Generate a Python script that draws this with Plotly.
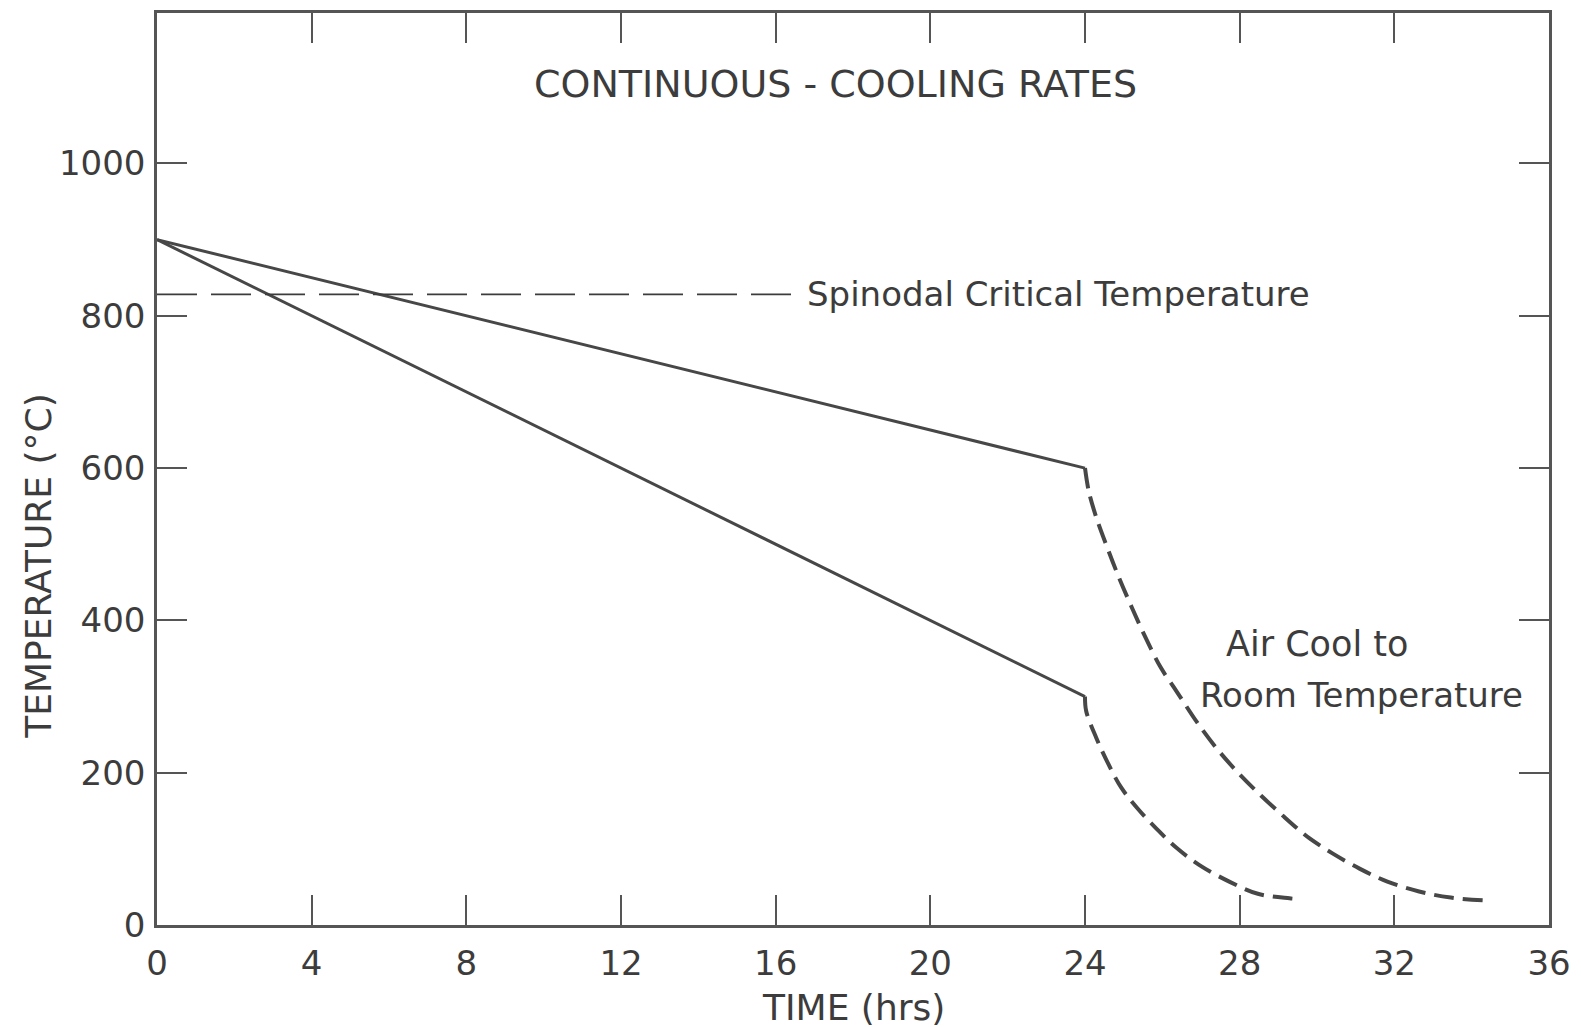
import plotly.graph_objects as go

# Controlled cooling segments (time in hrs, temperature in deg C)
slow_time = [0, 24]
slow_temp = [900, 600]
fast_time = [0, 24]
fast_temp = [900, 300]

# Air cooling to room temperature after the controlled segment
slow_air_time = [24.0, 24.1, 24.3, 24.58, 24.88, 25.22, 25.57, 25.96, 26.3, 26.47, 26.9,
                 27.42, 27.94, 28.55, 29.15, 29.53, 29.8, 30.4, 31.1, 31.82, 32.64, 33.46, 34.4]
slow_air_temp = [600, 569, 534, 495, 456, 416, 377, 338, 312, 299, 266,
                 231, 201, 170, 142, 125, 114, 94, 74, 57, 44, 36, 32]
fast_air_time = [24.0, 24.03, 24.29, 24.58, 24.93, 25.36, 25.84, 26.35, 26.95, 27.73, 28.47, 29.29, 29.55]
fast_air_temp = [300, 281, 246, 214, 181, 153, 127, 102, 79, 57, 41, 35, 34]

# Spinodal critical temperature reference line
spinodal_time = [0, 16.6]
spinodal_temp = [828, 828]

x_ticks = [0, 4, 8, 12, 16, 20, 24, 28, 32, 36]
x_tick_text = ["0", "4", "8", "12", "16", "20", "24", "28", "32", "36"]
y_ticks = [0, 200, 400, 600, 800, 1000]
y_tick_text = ["0", "200", "400", "600", "800", "1000"]

INK = "#3c3c3c"
FONT = "DejaVu Sans"

fig = go.Figure()

for t, v in ((slow_time, slow_temp), (fast_time, fast_temp)):
    fig.add_trace(go.Scatter(x=t, y=v, mode="lines",
                             line=dict(color="#474747", width=3), hoverinfo="skip"))

for t, v in ((slow_air_time, slow_air_temp), (fast_air_time, fast_air_temp)):
    fig.add_trace(go.Scatter(x=t, y=v, mode="lines",
                             line=dict(color="#474747", width=4, dash="20px,9px", shape="spline"),
                             hoverinfo="skip"))

fig.add_trace(go.Scatter(x=spinodal_time, y=spinodal_temp, mode="lines",
                         line=dict(color=INK, width=1.8, dash="40px,14px"), hoverinfo="skip"))

annotations = [
    dict(x=17.55, y=1105, text="CONTINUOUS - COOLING RATES", font=dict(size=38),
         xanchor="center", yanchor="middle"),
    dict(x=16.75, y=828, text="Spinodal Critical Temperature", font=dict(size=34),
         xanchor="left", yanchor="middle"),
    dict(x=27.6, y=369, text="Air Cool to", font=dict(size=35),
         xanchor="left", yanchor="middle"),
    dict(x=26.93, y=302, text="Room Temperature", font=dict(size=34),
         xanchor="left", yanchor="middle"),
    dict(x=18.0, y=-0.091, xref="x", yref="paper", text="TIME (hrs)", font=dict(size=36),
         xanchor="center", yanchor="middle"),
    dict(x=-0.0854, y=0.393, xref="paper", yref="paper", text="TEMPERATURE (°C)",
         font=dict(size=36), textangle=-90, xanchor="center", yanchor="middle"),
]
for a in annotations:
    a.setdefault("xref", "x")
    a.setdefault("yref", "y")
    a["showarrow"] = False
    a["font"].update(family=FONT, color=INK)

axis_common = dict(showline=True, mirror="ticks", linecolor="#555555", linewidth=2.5,
                   ticks="inside", ticklen=30, tickwidth=2, tickcolor="#555555",
                   showgrid=False, zeroline=False,
                   tickfont=dict(family=FONT, size=34, color=INK))

fig.update_layout(
    width=1581, height=1027, autosize=False,
    margin=dict(l=157, r=31, t=10, b=102),
    paper_bgcolor="white", plot_bgcolor="white",
    showlegend=False,
    annotations=annotations,
    xaxis=dict(range=[0, 36], tickvals=x_ticks, ticktext=x_tick_text,
               ticklabelstandoff=6, **axis_common),
    yaxis=dict(range=[0, 1197.6], tickvals=y_ticks, ticktext=y_tick_text,
               ticklabelstandoff=2, **axis_common),
)

fig.write_html("out.html")
